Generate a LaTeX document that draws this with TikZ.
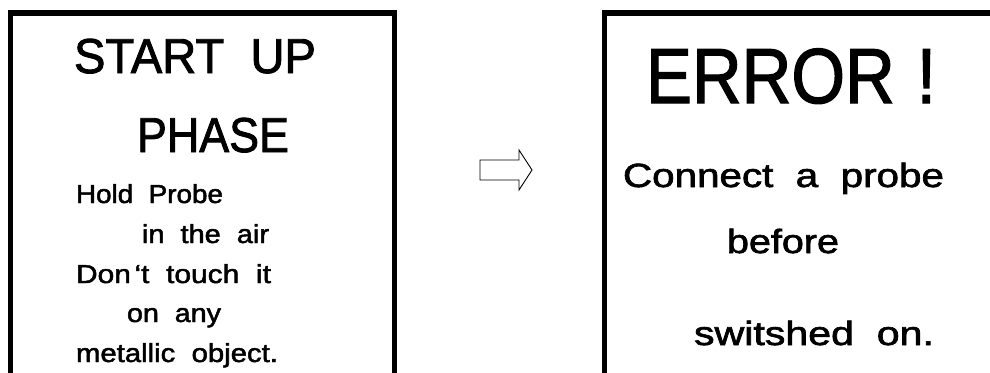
\documentclass[tikz,border=0pt]{standalone}
\usepackage{fontspec}
\setmainfont{Liberation Sans}
% display lettering: regular cut, slightly emboldened, wide word gaps
\newfontfamily\screenfont{Liberation Sans}[FakeBold=1.8, WordSpace=2]
\usepackage{graphicx}
% set a line of text to an exact printed width, keeping its height
\newcommand\fitline[2]{\resizebox{#1pt}{\height}{#2}}
\begin{document}
\begin{tikzpicture}[x=1pt,y=-1pt,
  frame/.style={line width=5.5pt, line cap=butt, line join=miter},
  txt/.style={anchor=base west, inner sep=0pt, outer sep=0pt},
  huge/.style={font=\screenfont\fontsize{78}{78}\selectfont},
  big/.style={font=\screenfont\fontsize{49}{49}\selectfont},
  mid/.style={font=\screenfont\fontsize{33.5}{33.5}\selectfont},
  small/.style={font=\screenfont\fontsize{26}{26}\selectfont},
  pointer/.style={draw=black, fill=white, line width=0.9pt, line join=miter},
]
\useasboundingbox (0,0) rectangle (990,372);
\clip (0,0) rectangle (990,372);

% start-up screen
\draw[frame] (10.5,380) -- (10.5,13) -- (394.5,13) -- (394.5,380);
\node[txt, big]   (su1) at (74,73)  {\fitline{242}{START UP}};
\node[txt, big]   (su2) at (137,152) {\fitline{152}{PHASE}};
\node[txt, small] (su3) at (76,203) {\fitline{147}{Hold Probe}};
\node[txt, small] (su4) at (142,243) {\fitline{127}{in the air}};
\node[txt, small] (su5) at (76,283) {\fitline{195}{Don\kern0.12em‘t touch it}};
\node[txt, small] (su6) at (127,322) {\fitline{94}{on any}};
\node[txt, small] (su7) at (76,362) {\fitline{202}{metallic object.}};

% transition arrow
\draw[pointer] (480,160) -- (519,160) -- (519,150) -- (532,170)
  -- (519,190) -- (519,180) -- (480,180) -- cycle;

% error screen
\draw[frame] (604.5,380) -- (604.5,13) -- (1000,13);
\node[txt, huge] (er1) at (646,103) {\fitline{290}{ERROR\kern0.32em!}};
\node[txt, mid]  (er2) at (623,187) {\fitline{321}{Connect a probe}};
\node[txt, mid]  (er3) at (727,253) {\fitline{112}{before}};
\node[txt, mid]  (er4) at (694,345) {\fitline{240}{switshed on.}};
\end{tikzpicture}
\end{document}
